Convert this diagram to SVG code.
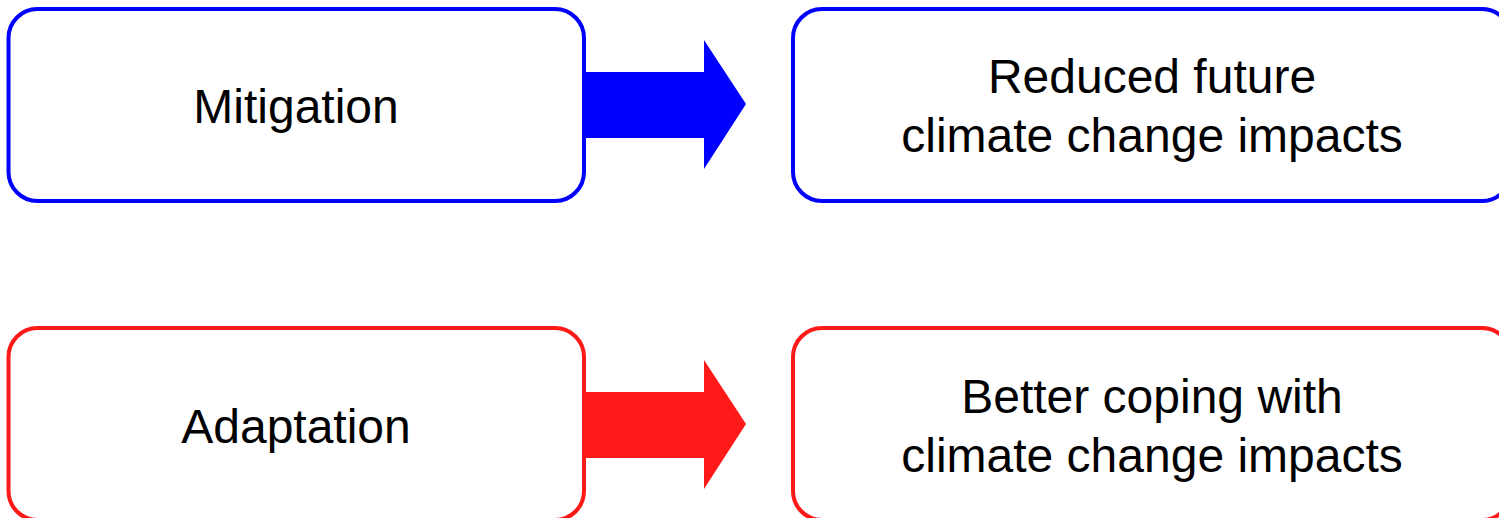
<svg xmlns="http://www.w3.org/2000/svg" width="1499" height="518" viewBox="0 0 1499 518">
  <style>
    .box { fill: #ffffff; stroke-width: 4; }
    .blue { stroke: #0000ff; }
    .red { stroke: #ff1a1a; }
    .label { font-family: "Liberation Sans", Arial, sans-serif; font-size: 48px; fill: #000000; text-anchor: middle; }
  </style>
  <rect width="1499" height="518" fill="#ffffff"/>

  <!-- connectors: block arrows -->
  <g id="connectors">
    <polygon id="arrow-mitigation" fill="#0000ff" points="584,72 704,72 704,40 746,104 704,169 704,138 584,138"/>
    <polygon id="arrow-adaptation" fill="#ff1a1a" points="584,392 704,392 704,360 746,424 704,489 704,458 584,458"/>
  </g>

  <g id="mitigation">
    <rect class="box blue" x="8.5" y="9" width="575.5" height="192" rx="29" ry="29"/>
    <text class="label" x="296" y="123">Mitigation</text>
  </g>

  <g id="reduced-impacts">
    <rect class="box blue" x="793" y="9" width="718" height="192" rx="29" ry="29"/>
    <text class="label" x="1152" y="93">Reduced future</text>
    <text class="label" x="1152" y="152">climate change impacts</text>
  </g>

  <g id="adaptation">
    <rect class="box red" x="8.5" y="328" width="575.5" height="192" rx="29" ry="29"/>
    <text class="label" x="296" y="443">Adaptation</text>
  </g>

  <g id="better-coping">
    <rect class="box red" x="793" y="328" width="718" height="192" rx="29" ry="29"/>
    <text class="label" x="1152" y="413">Better coping with</text>
    <text class="label" x="1152" y="472">climate change impacts</text>
  </g>
</svg>
